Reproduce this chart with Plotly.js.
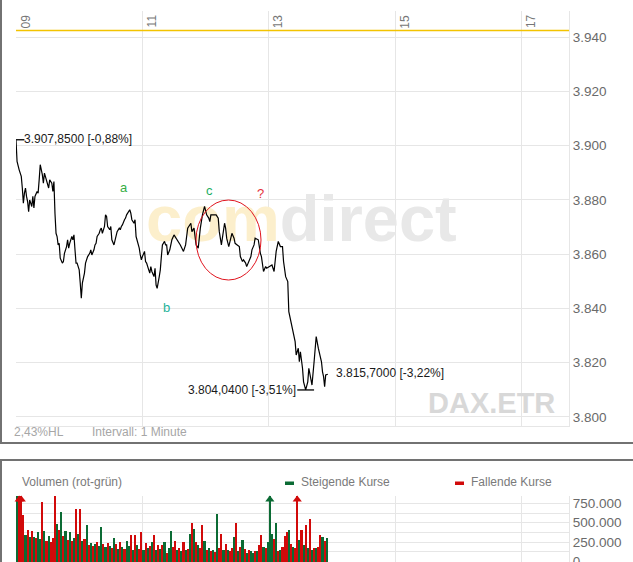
<!DOCTYPE html>
<html>
<head>
<meta charset="utf-8">
<script src="https://cdn.plot.ly/plotly-3.0.1.min.js"></script>
<style>
  html, body { margin: 0; padding: 0; background: #ffffff; }
  #chart { width: 633px; height: 562px; }
</style>
</head>
<body>
<div id="chart"></div>
<script>
// DAX (Xetra) intraday, 1-minute interval
const SESSION_DAY = '2009-03-02';

// price line: minutes after 09:00 and index level
const priceMinute = [
  0, 1, 3, 5, 6, 7, 8, 9, 10, 11, 12, 13, 15, 16, 17, 18, 20, 21, 22, 23,
  25, 26, 27, 29, 30, 31, 32, 34, 35, 36, 37, 38, 39, 40, 41, 42, 44, 45, 46, 48,
  49, 50, 51, 53, 54, 55, 56, 57, 58, 60, 61, 62, 63, 65, 66, 67, 68, 70, 71, 72,
  74, 75, 76, 77, 79, 80, 81, 82, 84, 85, 86, 87, 89, 90, 91, 93, 94, 95, 96, 98,
  99, 100, 101, 103, 104, 105, 106, 108, 109, 110, 112, 113, 114, 115, 117, 118, 119, 120, 122, 123,
  124, 126, 127, 128, 129, 131, 132, 133, 134, 136, 137, 138, 139, 141, 142, 143, 144, 146, 147, 148,
  150, 153, 156, 159, 161, 163, 166, 167, 169, 171, 173, 175, 177, 179, 181, 183, 184, 185, 188, 190,
  192, 193, 195, 197, 198, 199, 200, 202, 204, 205, 207, 208, 210, 212, 213, 215, 216, 218, 219, 221,
  223, 224, 226, 227, 230, 232, 233, 235, 237, 238, 241, 243, 245, 247, 249, 251, 253, 254, 256, 258,
  259, 261, 262, 264, 265, 266, 268, 269, 270, 272, 273, 275, 277, 278, 280, 281, 283, 284, 285, 287,
  289, 290, 291, 292, 293, 294, 296
];
const priceValue = [
  3902.2, 3894.2, 3891.1, 3888.7, 3884.4, 3878.8, 3882.5, 3884.4, 3881.3, 3879.4, 3875.7, 3880.0, 3877.6, 3881.3, 3877.0, 3881.3, 3883.1, 3882.5, 3887.4, 3893.0,
  3889.3, 3886.2, 3889.9, 3886.8, 3885.6, 3884.4, 3887.4, 3886.2, 3883.1, 3886.8, 3875.1, 3867.7, 3866.5, 3863.4, 3864.0, 3858.5, 3856.7, 3857.3, 3860.3, 3862.8,
  3865.3, 3862.2, 3864.0, 3866.5, 3865.3, 3867.1, 3861.6, 3856.7, 3856.7, 3854.2, 3849.3, 3843.7, 3849.3, 3853.0, 3856.7, 3858.5, 3859.1, 3860.3, 3861.6, 3859.7,
  3861.6, 3863.4, 3864.0, 3866.5, 3867.7, 3869.0, 3869.6, 3867.7, 3870.2, 3874.5, 3873.9, 3870.2, 3869.0, 3870.2, 3865.3, 3863.4, 3865.3, 3866.5, 3868.3, 3869.6,
  3869.0, 3870.2, 3870.8, 3872.7, 3873.3, 3874.5, 3875.1, 3876.4, 3875.1, 3872.7, 3871.4, 3872.7, 3866.5, 3865.3, 3862.2, 3859.7, 3857.9, 3859.1, 3861.0, 3857.3,
  3856.7, 3854.2, 3853.0, 3855.4, 3853.6, 3851.7, 3854.8, 3848.6, 3847.4, 3851.7, 3854.2, 3859.1, 3863.4, 3864.7, 3863.4, 3863.4, 3859.7, 3861.6, 3863.4, 3865.3,
  3867.1, 3865.3, 3863.4, 3861.0, 3863.4, 3869.6, 3871.4, 3868.3, 3869.6, 3863.4, 3862.2, 3869.6, 3874.5, 3877.6, 3874.5, 3873.3, 3872.0, 3874.5, 3874.5, 3874.5,
  3873.3, 3868.3, 3863.4, 3869.6, 3871.4, 3869.6, 3865.9, 3862.8, 3867.1, 3867.7, 3865.9, 3864.0, 3863.4, 3862.8, 3859.1, 3857.3, 3857.9, 3856.7, 3855.4, 3857.3,
  3859.1, 3861.6, 3863.4, 3865.9, 3865.3, 3860.3, 3859.1, 3853.6, 3855.4, 3854.8, 3855.4, 3856.0, 3853.6, 3861.0, 3864.7, 3862.8, 3862.8, 3857.3, 3851.7, 3849.9,
  3838.8, 3835.1, 3833.9, 3830.2, 3827.7, 3822.8, 3825.3, 3820.3, 3824.0, 3817.9, 3812.9, 3809.9, 3812.9, 3817.9, 3814.2, 3811.7, 3820.3, 3826.5, 3829.6, 3825.3,
  3821.6, 3820.3, 3816.6, 3814.8, 3811.1, 3815.4, 3815.7
];

// previous day's close (reference line)
const prevClose = 3942.54;

// turnover per 2-minute interval and direction (1 = rising, 0 = falling)
const volumeIntervalMin = 2;
const volume = [
  840000, 1150000, 1020000, 600000, 340000, 400000, 320000, 395000, 310000, 300000, 380000, 290000,
  770000, 395000, 260000, 330000, 250000, 300000, 840000, 480000, 400000, 637000, 330000, 390000,
  280000, 380000, 260000, 300000, 675000, 350000, 680000, 260000, 290000, 470000, 210000, 240000,
  200000, 230000, 250000, 200000, 450000, 220000, 190000, 240000, 200000, 170000, 300000, 230000,
  160000, 250000, 190000, 160000, 270000, 200000, 340000, 150000, 340000, 210000, 160000, 385000,
  150000, 240000, 180000, 200000, 250000, 340000, 150000, 210000, 160000, 210000, 250000, 110000,
  180000, 395000, 190000, 270000, 150000, 180000, 140000, 250000, 150000, 160000, 360000, 490000,
  415000, 250000, 210000, 170000, 470000, 270000, 150000, 170000, 130000, 150000, 120000, 612000,
  170000, 360000, 150000, 230000, 150000, 130000, 170000, 320000, 490000, 130000, 190000, 275000,
  160000, 110000, 150000, 130000, 110000, 130000, 140000, 210000, 340000, 190000, 170000, 250000,
  1100000, 360000, 290000, 490000, 130000, 150000, 190000, 330000, 380000, 405000, 230000, 190000,
  170000, 1050000, 280000, 405000, 210000, 470000, 170000, 545000, 150000, 170000, 180000, 190000,
  340000, 320000, 270000, 300000
];
const volumeRising = [
  1, 0, 0, 0, 1, 0, 1, 0, 1, 0, 1, 1,
  0, 1, 0, 1, 0, 0, 0, 1, 0, 1, 0, 1,
  0, 1, 0, 1, 0, 1, 0, 1, 0, 1, 0, 1,
  0, 1, 0, 1, 1, 0, 1, 0, 1, 0, 1, 0,
  1, 0, 1, 0, 1, 1, 0, 1, 0, 1, 0, 0,
  1, 0, 1, 0, 1, 0, 1, 0, 1, 0, 1, 0,
  1, 1, 0, 0, 1, 0, 1, 0, 1, 0, 1, 0,
  1, 0, 1, 0, 0, 1, 0, 1, 0, 1, 0, 1,
  0, 0, 1, 0, 1, 0, 0, 1, 0, 1, 0, 1,
  0, 1, 0, 1, 1, 0, 1, 0, 0, 1, 0, 1,
  1, 1, 0, 1, 0, 1, 0, 0, 0, 1, 0, 1,
  0, 0, 1, 0, 1, 0, 1, 0, 1, 0, 1, 0,
  0, 1, 0, 1
];

// axis ticks and texts
const hourTickMinute = [0, 120, 240, 360, 480];
const hourTickText = ['09', '11', '13', '15', '17'];
const priceTicks = [3800, 3820, 3840, 3860, 3880, 3900, 3920, 3940];
const volumeTicks = [0, 250000, 500000, 750000];
const highLabel = '3.907,8500 [-0,88%]';
const lowLabel = '3.804,0400 [-3,51%]';
const closeLabel = '3.815,7000 [-3,22%]';
const waveLabels = ['a', 'b', 'c', '?'];
const infoRange = '2,43%HL';
const infoInterval = 'Intervall: 1 Minute';
const volumeTitle = 'Volumen (rot-grün)';
const legendUp = 'Steigende Kurse';
const legendDown = 'Fallende Kurse';
const symbolText = 'DAX.ETR';

// ---------------------------------------------------------------
const FONT = 'Liberation Sans, Arial, Helvetica, sans-serif';
const GREEN = '#0b6b34';
const RED = '#d10a0a';
const GRID = '#e6e6e6';
const FRAME = '#727272';

function clock(min) {
  const h = 9 + Math.floor(min / 60);
  const m = Math.round(min - Math.floor(min / 60) * 60);
  return SESSION_DAY + ' ' + String(h).padStart(2, '0') + ':' + String(m).padStart(2, '0');
}

// plot-area pixel box -> paper fractions
const PL = 16, PR = 569, PT = 11, PB = 562;
const px = x => (x - PL) / (PR - PL);
const py = y => (PB - y) / (PB - PT);

const priceTimes = priceMinute.map(clock);
const volTimes = volume.map((v, i) => clock(i * volumeIntervalMin + volumeIntervalMin / 2));
const volColors = volumeRising.map(r => (r ? GREEN : RED));
const VOL_TOP = 844000;

const firstIdx = 0;
const lastIdx = priceValue.length - 1;
let lowIdx = 0;
priceValue.forEach((v, i) => { if (v < priceValue[lowIdx]) lowIdx = i; });

const clipped = volume.map((v, i) => i).filter(i => volume[i] > VOL_TOP);

const traces = [
  // brand watermark behind the price line
  {
    type: 'scatter', mode: 'text', xaxis: 'x', yaxis: 'y',
    x: [clock(271)], y: [3870.7],
    text: ['<span style="color:#fcefcc">com</span><span style="color:#e8e8e8">direct</span>'],
    textposition: 'middle center',
    textfont: { family: FONT, size: 65, weight: 'bold' },
    hoverinfo: 'skip'
  },
  {
    type: 'scatter', mode: 'lines', xaxis: 'x', yaxis: 'y',
    x: priceTimes, y: priceValue,
    line: { color: '#000000', width: 1.2 },
    hoverinfo: 'skip'
  },
  // day high / low marks
  {
    type: 'scatter', mode: 'markers', xaxis: 'x', yaxis: 'y',
    x: [priceTimes[firstIdx], priceTimes[lowIdx]],
    y: [priceValue[firstIdx], priceValue[lowIdx]],
    marker: { symbol: 'line-ew', size: 12, color: '#000', line: { color: '#000', width: 1.3 } },
    hoverinfo: 'skip'
  },
  {
    type: 'bar', xaxis: 'x2', yaxis: 'y2',
    x: volTimes, y: volume,
    width: volumeIntervalMin * 60000,
    marker: { color: volColors, line: { width: 0 } },
    hoverinfo: 'skip'
  },
  // bars running past the top of the panel
  {
    type: 'scatter', mode: 'markers', xaxis: 'x2', yaxis: 'y2',
    x: clipped.map(i => volTimes[i]),
    y: clipped.map(() => VOL_TOP - 45000),
    marker: { symbol: 'triangle-up', size: 8, color: clipped.map(i => volColors[i]) },
    cliponaxis: false,
    hoverinfo: 'skip'
  }
];

const annotations = [];
hourTickMinute.forEach((m, i) => {
  annotations.push({
    xref: 'x', yref: 'paper', x: clock(m), y: py(12.5),
    text: hourTickText[i], textangle: -90, showarrow: false,
    xanchor: 'left', yanchor: 'top', xshift: 1,
    font: { family: FONT, size: 12, color: '#777777' }
  });
});
const labelFont = { family: FONT, size: 12, color: '#1a1a1a' };
annotations.push(
  { xref: 'x', yref: 'y', x: priceTimes[firstIdx], y: priceValue[firstIdx], text: highLabel,
    showarrow: false, xanchor: 'left', yanchor: 'middle', xshift: 6, yshift: 1, font: labelFont },
  { xref: 'x', yref: 'y', x: priceTimes[lowIdx], y: priceValue[lowIdx], text: lowLabel,
    showarrow: false, xanchor: 'right', yanchor: 'middle', xshift: -8, yshift: 0, font: labelFont },
  { xref: 'x', yref: 'y', x: priceTimes[lastIdx], y: priceValue[lastIdx], text: closeLabel,
    showarrow: false, xanchor: 'left', yanchor: 'middle', xshift: 6, yshift: 1, font: labelFont }
);
const wavePos = [[124, 187, '#36ad45'], [166, 307, '#1fb39a'], [210, 190, '#1eae62'], [260, 194, '#e5323c']];
waveLabels.forEach((t, i) => {
  annotations.push({
    xref: 'paper', yref: 'paper', x: px(wavePos[i][0]), y: py(wavePos[i][1]), text: t,
    showarrow: false, xanchor: 'center', yanchor: 'middle',
    font: { family: FONT, size: 13, color: wavePos[i][2] }
  });
});
annotations.push(
  { xref: 'paper', yref: 'paper', x: px(557), y: py(403), text: symbolText, showarrow: false,
    xanchor: 'right', yanchor: 'middle', font: { family: FONT, size: 29, color: '#d8d8d8', weight: 'bold' } },
  { xref: 'paper', yref: 'paper', x: px(12), y: py(431.5), text: infoRange, showarrow: false,
    xanchor: 'left', yanchor: 'middle', font: { family: FONT, size: 12, color: '#a6a6a6' } },
  { xref: 'paper', yref: 'paper', x: px(90), y: py(431.5), text: infoInterval, showarrow: false,
    xanchor: 'left', yanchor: 'middle', font: { family: FONT, size: 12, color: '#a6a6a6' } },
  { xref: 'paper', yref: 'paper', x: px(20), y: py(482), text: volumeTitle, showarrow: false,
    xanchor: 'left', yanchor: 'middle', font: { family: FONT, size: 12, color: '#7a7a7a' } },
  { xref: 'paper', yref: 'paper', x: px(299), y: py(482), text: legendUp, showarrow: false,
    xanchor: 'left', yanchor: 'middle', font: { family: FONT, size: 12, color: '#7a7a7a' } },
  { xref: 'paper', yref: 'paper', x: px(469), y: py(482), text: legendDown, showarrow: false,
    xanchor: 'left', yanchor: 'middle', font: { family: FONT, size: 12, color: '#7a7a7a' } }
);

const shapes = [
  // previous close
  { type: 'line', xref: 'paper', yref: 'y', x0: 0, x1: 1, y0: prevClose, y1: prevClose,
    line: { color: '#f3c300', width: 1.5 } },
  // marked area
  { type: 'circle', xref: 'paper', yref: 'paper', x0: px(196), x1: px(261), y0: py(200), y1: py(280),
    line: { color: '#e0141e', width: 1 } },
  // legend swatches
  { type: 'rect', xref: 'paper', yref: 'paper', x0: px(285), x1: px(294), y0: py(485), y1: py(481.5),
    fillcolor: GREEN, line: { width: 0 } },
  { type: 'rect', xref: 'paper', yref: 'paper', x0: px(455), x1: px(464), y0: py(485), y1: py(481.5),
    fillcolor: RED, line: { width: 0 } },
  // panel frames
  { type: 'line', xref: 'paper', yref: 'paper', x0: px(1), x1: px(1), y0: py(0), y1: py(443),
    line: { color: FRAME, width: 2 } },
  { type: 'line', xref: 'paper', yref: 'paper', x0: px(0), x1: px(633), y0: py(443), y1: py(443),
    line: { color: FRAME, width: 2 } },
  { type: 'line', xref: 'paper', yref: 'paper', x0: px(0), x1: px(633), y0: py(460), y1: py(460),
    line: { color: FRAME, width: 2 } },
  { type: 'line', xref: 'paper', yref: 'paper', x0: px(1), x1: px(1), y0: py(460), y1: py(563),
    line: { color: FRAME, width: 2 } }
];

const xCommon = {
  type: 'date',
  range: [clock(0), SESSION_DAY + ' 17:45'],
  tick0: clock(0), dtick: 2 * 3600 * 1000,
  showticklabels: false, ticks: '',
  showgrid: true, gridcolor: GRID, gridwidth: 1,
  zeroline: false, fixedrange: true
};
const yTickFont = { family: FONT, size: 13.5, color: '#6a6a6a' };

const layout = {
  width: 633, height: 562,
  margin: { l: PL, r: 633 - PR, t: PT, b: 562 - PB, pad: 0 },
  paper_bgcolor: '#ffffff', plot_bgcolor: '#ffffff',
  separators: ',.',
  showlegend: false,
  bargap: 0,
  font: { family: FONT },
  xaxis: Object.assign({}, xCommon, { anchor: 'y', showline: true, linecolor: GRID, linewidth: 1 }),
  xaxis2: Object.assign({}, xCommon, { anchor: 'y2', matches: 'x', showline: false }),
  yaxis: {
    domain: [py(426), 1], range: [3796.6, 3949.7],
    side: 'right', tickmode: 'array', tickvals: priceTicks, tickformat: ',.0f',
    ticks: '', tickfont: yTickFont,
    showgrid: true, gridcolor: GRID, zeroline: false,
    showline: true, linecolor: GRID, linewidth: 1, fixedrange: true
  },
  yaxis2: {
    domain: [0, py(496)], range: [-6400, VOL_TOP],
    side: 'right', tickmode: 'array', tickvals: volumeTicks, tickformat: ',.0f',
    ticks: '', tickfont: yTickFont, ticklabeloverflow: 'allow',
    showgrid: true, gridcolor: GRID, zeroline: false,
    minor: { tickmode: 'array', tickvals: [125000, 375000, 625000], showgrid: true, gridcolor: GRID, ticks: '' },
    showline: true, linecolor: GRID, linewidth: 1, fixedrange: true
  },
  annotations: annotations,
  shapes: shapes
};

Plotly.newPlot('chart', traces, layout, { displayModeBar: false, staticPlot: true });
</script>
</body>
</html>
